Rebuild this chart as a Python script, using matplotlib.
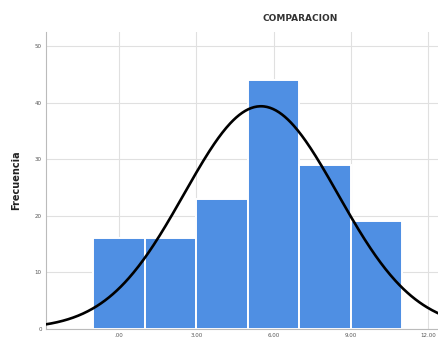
import numpy as np
import matplotlib.pyplot as plt

# ============================================================
# DATA
# ============================================================

BIN_EDGES = [-1, 1, 3, 5, 7, 9, 11]
COUNTS = [16, 16, 23, 44, 29, 19]

MEAN = 5.51
SD = 2.98
N = sum(COUNTS)

X_TICKS = [0, 3, 6, 9, 12]
X_TICK_LABELS = [".00", "3.00", "6.00", "9.00", "12.00"]
Y_TICKS = [0, 10, 20, 30, 40, 50]

BAR_COLOR = "#4f8fe3"

# ============================================================
# PLOT
# ============================================================

fig = plt.figure(figsize=(4.38, 3.40), dpi=100)
ax = fig.add_axes([0.105, 0.033, 0.895, 0.873])

lefts = BIN_EDGES[:-1]
widths = np.diff(BIN_EDGES)
ax.bar(lefts, COUNTS, width=widths, align="edge", color=BAR_COLOR,
       edgecolor="white", linewidth=1.4, zorder=2)

# normal curve scaled to the histogram
xs = np.linspace(-2.9, 12.5, 400)
bw = widths[0]
ys = N * bw / (SD * np.sqrt(2 * np.pi)) * np.exp(-0.5 * ((xs - MEAN) / SD) ** 2)
ax.plot(xs, ys, color="black", linewidth=1.9, zorder=3)

ax.set_xlim(-2.83, 12.38)
ax.set_ylim(0, 52.5)
ax.set_xticks(X_TICKS)
ax.set_xticklabels(X_TICK_LABELS)
ax.set_yticks(Y_TICKS)

ax.grid(True, color="#e0e0e0", linewidth=0.8, zorder=0)
ax.set_axisbelow(True)
ax.tick_params(axis="both", length=0, labelsize=4, colors="#555555", pad=3)
for side in ["top", "right"]:
    ax.spines[side].set_visible(False)
for side in ["left", "bottom"]:
    ax.spines[side].set_color("#bbbbbb")
    ax.spines[side].set_linewidth(0.8)

ax.set_ylabel("Frecuencia", fontsize=7, fontweight="semibold", color="#222222", labelpad=10)
fig.text(0.685, 0.945, "COMPARACION", fontsize=6.5, fontweight="bold",
         color="#333333", ha="center", va="center")

fig.savefig("out.png", dpi=100)
